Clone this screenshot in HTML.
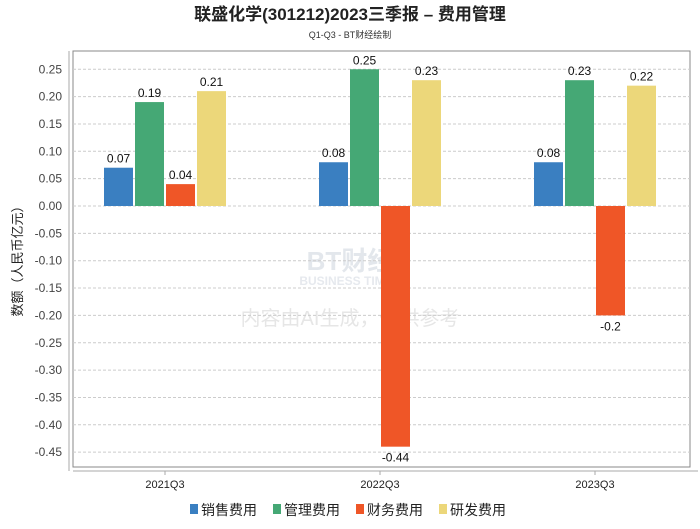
<!DOCTYPE html>
<html><head><meta charset="utf-8"><style>
body{margin:0;background:#fff;font-family:"Liberation Sans","Noto Sans CJK SC",sans-serif}
svg text{font-family:"Liberation Sans","Noto Sans CJK SC",sans-serif}
</style></head><body>
<svg id="c" width="700" height="524">
<text x="350" y="20" text-anchor="middle" font-size="17" font-weight="bold" fill="#222">联盛化学(301212)2023三季报 – 费用管理</text>
<text x="350" y="38" text-anchor="middle" font-size="9" fill="#333">Q1-Q3 - BT财经绘制</text>
<rect x="73" y="51" width="617" height="416" fill="none" stroke="#888"/>
<line x1="69" y1="51" x2="69" y2="471" stroke="#aaa"/>
<line x1="73" y1="471" x2="698" y2="471" stroke="#aaa"/>
<text transform="translate(22,258) rotate(-90)" text-anchor="middle" font-size="13" fill="#222">数额（人民币亿元）</text>
<text x="350" y="270" text-anchor="middle" font-size="26" fill="#e3e7ec" font-weight="bold">BT财经</text>
<text x="350" y="285" text-anchor="middle" font-size="12" fill="#e6e9ee" font-weight="bold">BUSINESS TIMES</text>
<text x="350" y="325" text-anchor="middle" font-size="20" fill="#e6e6e6">内容由AI生成，仅供参考</text>
<g id="grid"></g><g id="bars"></g>
<g font-size="14" fill="#222">
<rect x="190" y="504" width="8" height="10" fill="#3a7fc1"/><text x="201" y="515">销售费用</text>
<rect x="273" y="504" width="8" height="10" fill="#45a875"/><text x="284" y="515">管理费用</text>
<rect x="356" y="504" width="8" height="10" fill="#ef5627"/><text x="367" y="515">财务费用</text>
<rect x="439" y="504" width="8" height="10" fill="#ecd77a"/><text x="450" y="515">研发费用</text>
</g>
</svg>
<script>
const categories=["2021Q3","2022Q3","2023Q3"];
const sales=[0.07,0.08,0.08];
const admin=[0.19,0.25,0.23];
const finance=[0.04,-0.44,-0.2];
const rd=[0.21,0.23,0.22];
const seriesNames=["sales","admin","finance","rd"];
const colors=["#3a7fc1","#45a875","#ef5627","#ecd77a"];
const yTicks=[0.25,0.2,0.15,0.1,0.05,0,-0.05,-0.1,-0.15,-0.2,-0.25,-0.3,-0.35,-0.4,-0.45];
const NS="http://www.w3.org/2000/svg";
const y=v=>206-v*547;
const xc=i=>165+i*215;
const grid=document.getElementById('grid'),bars=document.getElementById('bars');
function mk(t,a,p){const e=document.createElementNS(NS,t);for(const k in a)e.setAttribute(k,a[k]);p.appendChild(e);return e;}
yTicks.forEach(v=>{
 const l=mk('line',{x1:73,x2:690,y1:y(v),y2:y(v),stroke:'#ccc','stroke-dasharray':'3,2'},grid);
 
 
 const t=mk('text',{x:62,y:y(v)+4,'text-anchor':'end','font-size':12,fill:'#444'},grid);
 t.textContent=v.toFixed(2);
 
 
});
categories.forEach((c,i)=>{
 const tk=mk('line',{x1:xc(i),x2:xc(i),y1:471,y2:475,stroke:'#aaa'},grid);
 
 
 const t=mk('text',{x:xc(i),y:488,'text-anchor':'middle','font-size':11,fill:'#222'},grid);
 t.textContent=c;
 
 
});
[sales,admin,finance,rd].forEach((arr,s)=>{
 arr.forEach((v,i)=>{
  const x=xc(i)-61+s*31;
  const r=mk('rect',{x:x,y:Math.min(y(v),y(0)),width:29,height:Math.abs(y(v)-y(0)),fill:colors[s]},bars);
  
  
  const t=mk('text',{x:x+14.5,y:v>=0?y(v)-5:y(v)+15,'text-anchor':'middle','font-size':12,fill:'#111'},bars);
  t.textContent=String(v);
  
  
 });
});
</script>
</body></html>
